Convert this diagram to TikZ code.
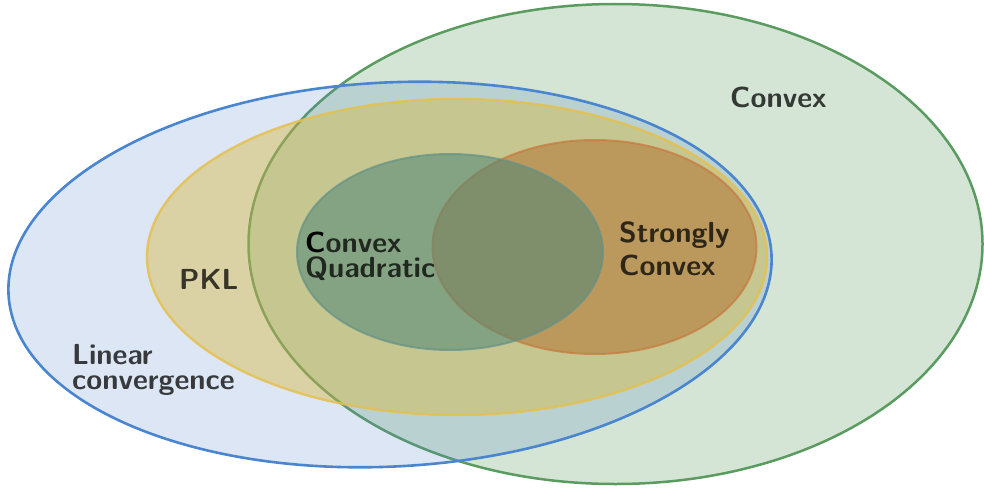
\documentclass[tikz,border=0pt]{standalone}
\usepackage{fontspec}
\definecolor{cgreenF}{RGB}{87,151,87}
\definecolor{cgreenD}{RGB}{90,155,95}
\definecolor{cblueF}{RGB}{80,130,200}
\definecolor{cblueD}{RGB}{74,134,208}
\definecolor{cyellowF}{RGB}{217,182,46}
\definecolor{cyellowD}{RGB}{228,192,80}
\definecolor{corangeF}{RGB}{177,110,42}
\definecolor{corangeD}{RGB}{200,120,60}
\definecolor{cdgF}{RGB}{80,135,120}
\definecolor{cdgD}{RGB}{100,145,135}
\tikzset{
  setconvex/.style={fill=cgreenF, fill opacity=0.25, draw=cgreenD, line width=2.5pt},
  setlinear/.style={fill=cblueF, fill opacity=0.2, draw=cblueD, line width=2.6pt},
  setpkl/.style={fill=cyellowF, fill opacity=0.4, draw=cyellowD, draw opacity=0.85, line width=2.4pt},
  setstrong/.style={fill=corangeF, fill opacity=0.5, draw=corangeD, draw opacity=0.7, line width=2pt},
  setquad/.style={fill=cdgF, fill opacity=0.55, draw=cdgD, draw opacity=0.7, line width=2pt},
  lbl/.style={font=\sffamily\bfseries\fontsize{29}{25}\selectfont, text=black, text opacity=0.75, inner sep=0pt, align=left, anchor=base west}
}
\begin{document}
\begin{tikzpicture}[x=1pt,y=-1pt]
\useasboundingbox (0,0) rectangle (984,487);
\draw[setconvex] (615.5,244) ellipse [x radius=367pt, y radius=240pt];
\draw[setlinear, shift={(390,274.5)}, rotate=3] (0,0) ellipse [x radius=382pt, y radius=192pt];
\draw[setpkl] (457,257) ellipse [x radius=310pt, y radius=158pt];
\draw[setstrong] (594.5,247) ellipse [x radius=162pt, y radius=107pt];
\draw[setquad] (450,252) ellipse [x radius=153pt, y radius=98pt];
\node[lbl] (convex) at (730,107) {Convex};
\node[lbl] (quad) at (305,277) {{\pgfsetfillopacity{1}C\pgfsetfillopacity{0.75}}onvex\\Quadratic};
\node[lbl] (strong) at (619,275) {Strongly\\[5.5pt]Convex};
\node[lbl] (pkl) at (179,289) {PKL};
\node[lbl] (linear) at (72,389) {Linear\\convergence};
\end{tikzpicture}
\end{document}
